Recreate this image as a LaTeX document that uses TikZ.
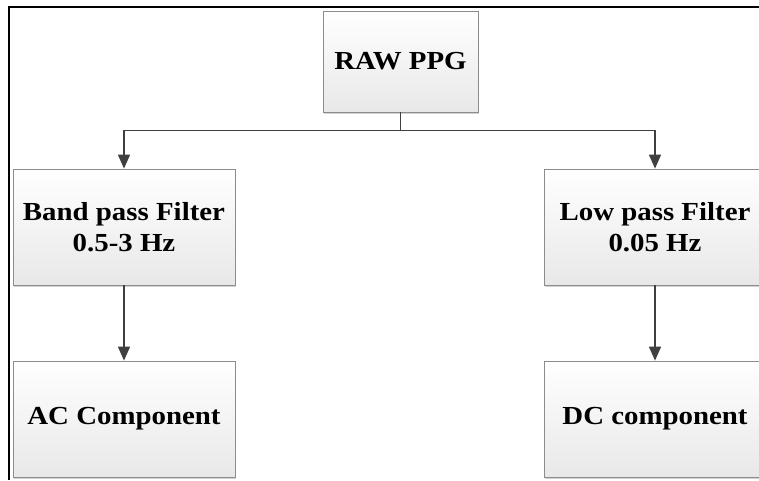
\documentclass[tikz,border=0pt]{standalone}
\usepackage{fontspec}
\setmainfont{Liberation Serif}[FakeStretch=1.11]
\usetikzlibrary{arrows.meta,shadows}
\begin{document}
\begin{tikzpicture}[x=1pt,y=-1pt,
  blockbox/.style={draw=black!45, line width=0.8pt,
    top color=white, bottom color=black!9,
    minimum width=222pt, minimum height=116pt, inner sep=0pt,
    align=center, font=\fontsize{26}{31}\selectfont\bfseries,
    drop shadow={shadow xshift=1pt, shadow yshift=-1.5pt, opacity=0.35, fill=gray}},
  link/.style={draw=black!75, line width=1.6pt},
  tip/.style={-{Triangle[length=14pt,width=12pt]}}
]
\clip (0,0) rectangle (759,480);
% frame
\draw[line width=1.8pt] (9,480) -- (9,7) -- (759,7);

% blocks
\node[blockbox, minimum width=155pt, minimum height=101pt] (raw) at (400.5,61.5) {RAW PPG};
\node[blockbox] (bpf) at (124,227) {Band pass Filter\\0.5-3 Hz};
\node[blockbox] (lpf) at (655,227) {Low pass Filter\\0.05 Hz};
\node[blockbox] (ac) at (124,419) {AC Component};
\node[blockbox] (dc) at (655,419) {DC component};

% connectors
\draw[link] (raw.south) -- ++(0,18) coordinate (split);
\draw[link,tip] (split) -| (bpf.north);
\draw[link,tip] (split) -| (lpf.north);
\draw[link,tip] (bpf.south) -- (ac.north);
\draw[link,tip] (lpf.south) -- (dc.north);
\end{tikzpicture}
\end{document}
